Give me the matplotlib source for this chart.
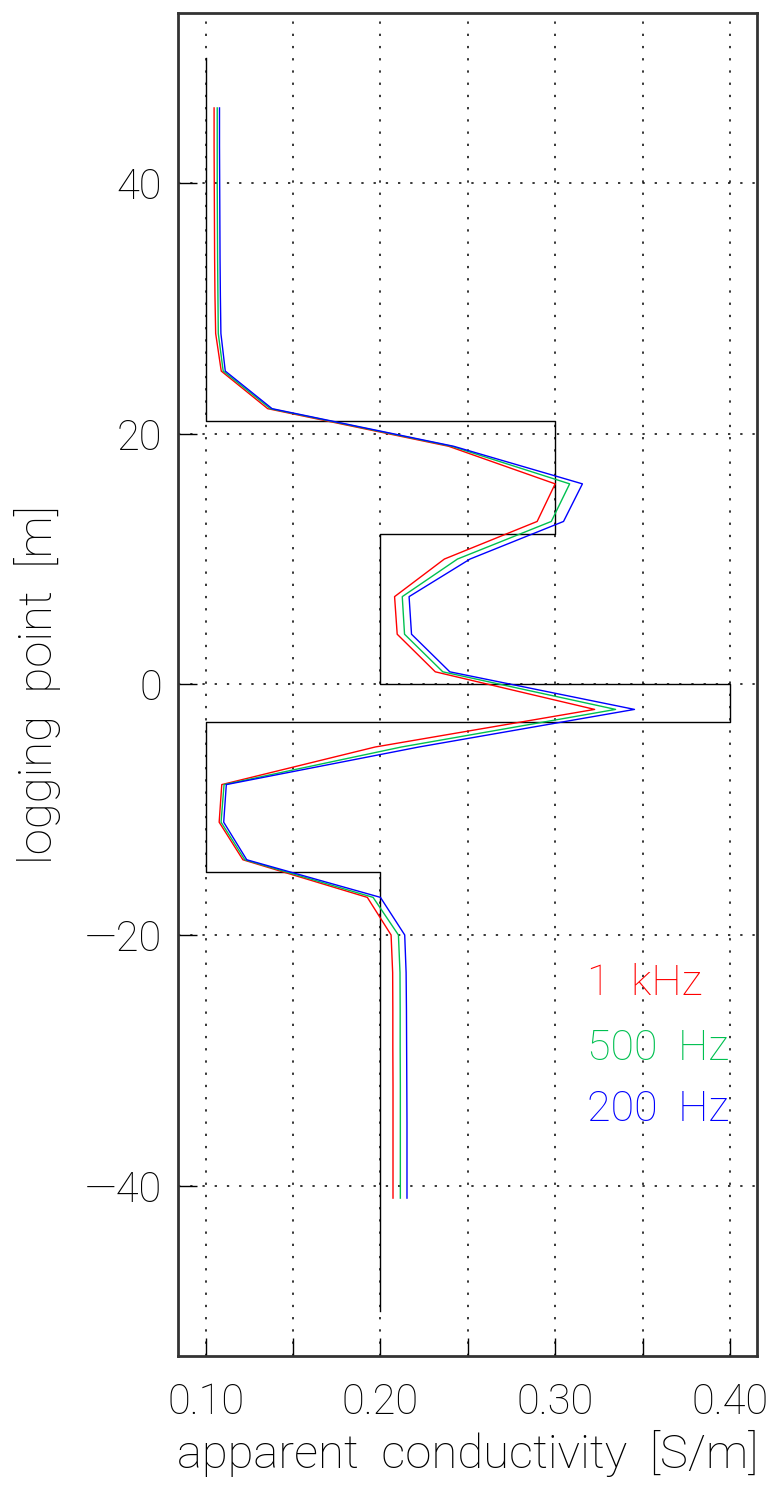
import numpy as np
import matplotlib
matplotlib.use("Agg")
import matplotlib.pyplot as plt
from matplotlib.ticker import FixedLocator, FuncFormatter

# text style
FONT = ["Roboto", "DejaVu Sans"]
plt.rcParams["font.family"] = FONT
plt.rcParams["font.weight"] = 200
plt.rcParams["axes.labelweight"] = 200

# logging points [m]
depth = [46, 43, 40, 37, 34, 31, 28, 25, 22, 19, 16, 13, 10, 7, 4, 1,
         -2, -5, -8, -11, -14, -17, -20, -23, -26, -29, -32, -35, -38, -41]

# apparent conductivity [S/m] for each frequency
sigma_1khz = [0.1048, 0.1048, 0.1049, 0.1050, 0.1051, 0.1053, 0.1057, 0.1089,
              0.1355, 0.2390, 0.3000, 0.2897, 0.2366, 0.2081, 0.2096, 0.2314,
              0.3226, 0.1970, 0.1092, 0.1077, 0.1213, 0.1925, 0.2061, 0.2070,
              0.2071, 0.2071, 0.2072, 0.2072, 0.2072, 0.2072]
sigma_500hz = [0.1066, 0.1066, 0.1066, 0.1067, 0.1068, 0.1070, 0.1072, 0.1100,
               0.1370, 0.2408, 0.3083, 0.2978, 0.2441, 0.2125, 0.2138, 0.2357,
               0.3346, 0.2120, 0.1105, 0.1088, 0.1224, 0.1958, 0.2103, 0.2112,
               0.2113, 0.2113, 0.2114, 0.2114, 0.2114, 0.2114]
sigma_200hz = [0.1079, 0.1079, 0.1080, 0.1081, 0.1082, 0.1084, 0.1087, 0.1112,
               0.1380, 0.2419, 0.3156, 0.3048, 0.2513, 0.2164, 0.2178, 0.2397,
               0.3454, 0.2220, 0.1118, 0.1103, 0.1235, 0.2000, 0.2139, 0.2147,
               0.2149, 0.2150, 0.2151, 0.2152, 0.2152, 0.2152]

# true layered model
layer_top = [50, 21, 12, 0, -3, -15]
layer_bottom = [21, 12, 0, -3, -15, -50]
layer_sigma = [0.10, 0.30, 0.20, 0.40, 0.10, 0.20]

labels = ["1  kHz", "500  Hz", "200  Hz"]
colors = ["#ff0000", "#00c050", "#0000ff"]

fig = plt.figure(figsize=(7.83, 14.87), dpi=100)
ax = fig.add_axes([0.2279, 0.0881, 0.9674 - 0.2279, 0.99146 - 0.0881])

# model staircase
mx = np.repeat(layer_sigma, 2)
my = np.ravel(np.column_stack([layer_top, layer_bottom]))
ax.plot(mx, my, color="black", lw=1.0)

for s, c in zip([sigma_1khz, sigma_500hz, sigma_200hz], colors):
    ax.plot(s, depth, color=c, lw=1.0)

ax.set_xlim(0.0844, 0.4158)
ax.set_ylim(-53.6, 53.6)

# dotted grid
for gx in np.arange(0.10, 0.401, 0.05):
    ax.axvline(gx, color="black", lw=1.1, ls=(0, (1.5, 6.5)), zorder=0)
for gy in [-40, -20, 0, 20, 40]:
    ax.axhline(gy, color="black", lw=1.1, ls=(0, (1.5, 6.5)), zorder=0)

ax.xaxis.set_major_locator(FixedLocator([0.10, 0.20, 0.30, 0.40]))
ax.xaxis.set_minor_locator(FixedLocator([0.15, 0.25, 0.35]))
ax.yaxis.set_major_locator(FixedLocator([-40, -20, 0, 20, 40]))
ax.xaxis.set_major_formatter(FuncFormatter(lambda v, p: f"{v:.2f}"))
ax.yaxis.set_major_formatter(FuncFormatter(lambda v, p: f"{v:.0f}".replace("-", "\u2014")))

ax.tick_params(axis="x", which="both", direction="in", length=13, width=1.0,
               top=False, labelsize=30, pad=19, labelcolor="black")
ax.tick_params(axis="y", direction="in", length=14, width=1.0,
               right=False, labelsize=30, pad=12, labelcolor="black")

for sp in ax.spines.values():
    sp.set_linewidth(2.0)
    sp.set_color("#333333")

ax.set_xlabel("apparent  conductivity  [S/m]", fontsize=34, fontweight=200,
              color="black", labelpad=5)
ax.set_ylabel("logging  point  [m]", fontsize=34, fontweight=200,
              color="black", labelpad=17)

# frequency labels
for lab, c, ty in zip(labels, colors, [-23.9, -29.1, -33.9]):
    ax.text(0.318, ty, lab, color=c, fontsize=31, fontweight=200,
            va="center", ha="left")

fig.savefig("out.png", dpi=100)
